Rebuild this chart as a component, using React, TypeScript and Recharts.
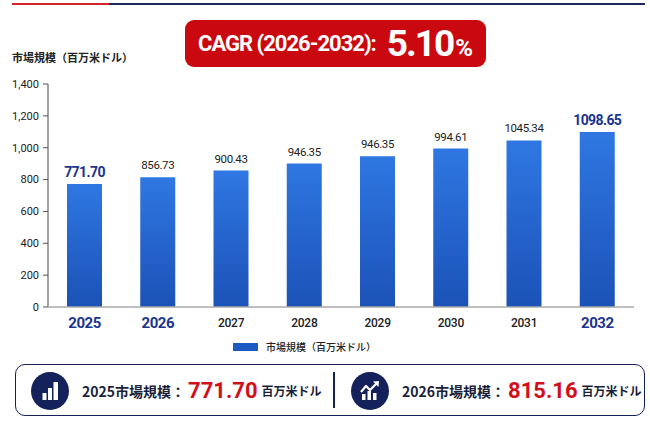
import React from "react";
import { BarChart, Bar, XAxis, YAxis, LabelList } from "recharts";

const FONT = "Roboto, 'Noto Sans CJK JP', sans-serif";
const JP = "'Noto Sans CJK JP', Roboto, sans-serif";

// data
const years = ["2025", "2026", "2027", "2028", "2029", "2030", "2031", "2032"];
const marketSize = [771.7, 815.16, 856.73, 900.43, 946.35, 994.61, 1045.34, 1098.65];
// value labels as printed above the bars (they do not all match the bar heights)
const barLabels = ["771.70", "856.73", "900.43", "946.35", "946.35", "994.61", "1045.34", "1098.65"];
const boldYears = ["2025", "2026", "2032"];
const boldLabelYears = ["2025", "2032"];
const yTicks = [0, 200, 400, 600, 800, 1000, 1200, 1400];

const seriesName = "市場規模（百万米ドル）";
const cagrText = "CAGR (2026-2032):";
const cagrValue = "5.10";
const summary = [
  { label: "2025市場規模：", value: "771.70", unit: "百万米ドル" },
  { label: "2026市場規模：", value: "815.16", unit: "百万米ドル" },
];

const NAVY = "#15215a";
const RED = "#d0101a";
const BLUE_TXT = "#1b348f";

const data = years.map((y, i) => ({ year: y, value: marketSize[i], label: barLabels[i] }));

function YearTick(props: any) {
  const { x, y, payload } = props;
  const big = boldYears.includes(payload.value);
  return (
    <text
      x={x}
      y={y + 15.5}
      textAnchor="middle"
      dominantBaseline="central"
      fontFamily={FONT}
      fontSize={big ? 15 : 12}
      fontWeight={big ? 700 : 500}
      letterSpacing={big ? -0.4 : -0.3}
      fill={big ? BLUE_TXT : "#222"}
    >
      {payload.value}
    </text>
  );
}

function ValueLabel(props: any) {
  const { x, y, width, index } = props;
  const d = data[index];
  if (!d) return null;
  const big = boldLabelYears.includes(d.year);
  return (
    <text
      x={x + width / 2}
      y={y - 12}
      textAnchor="middle"
      dominantBaseline="central"
      fontFamily={FONT}
      fontSize={big ? 14 : 11.5}
      fontWeight={big ? 700 : 400}
      letterSpacing={big ? -0.6 : -0.4}
      fill={big ? BLUE_TXT : "#222"}
    >
      {d.label}
    </text>
  );
}

function BarsIcon() {
  return (
    <svg width={38} height={38}>
      <circle cx={19} cy={19} r={19} fill={NAVY} />
      <rect x={11.5} y={21} width={4} height={7} fill="#fff" />
      <rect x={17} y={16} width={4} height={12} fill="#fff" />
      <rect x={22.5} y={10} width={4.5} height={18} fill="#fff" />
    </svg>
  );
}

function TrendIcon() {
  return (
    <svg width={38} height={38}>
      <circle cx={19} cy={19} r={19} fill={NAVY} />
      <rect x={11} y={22} width={3.5} height={6} fill="#fff" />
      <rect x={16.5} y={19} width={3.5} height={9} fill="#fff" />
      <rect x={22} y={21} width={3.5} height={7} fill="#fff" />
      <polyline points="10,20 15,14 19,18 26,11" fill="none" stroke="#fff" strokeWidth={2.2} strokeLinejoin="round" />
      <polygon points="22,9.5 28,9 27.5,15" fill="#fff" />
    </svg>
  );
}

function SummaryItem({ item, icon }: any) {
  return (
    <div style={{ display: "flex", alignItems: "center" }}>
      {icon}
      <span style={{ marginLeft: 13, fontFamily: JP, fontSize: 14, fontWeight: 700, color: "#1a1f3a", lineHeight: 1 }}>
        {item.label}
      </span>
      <span
        style={{
          marginLeft: 3,
          fontFamily: FONT,
          fontSize: 22,
          fontWeight: 700,
          color: RED,
          lineHeight: 1,
        }}
      >
        {item.value}
      </span>
      <span style={{ marginLeft: 4, fontFamily: JP, fontSize: 12, fontWeight: 700, color: "#1a1f3a", lineHeight: 1 }}>
        {item.unit}
      </span>
    </div>
  );
}

export default function App() {
  return (
    <div style={{ position: "absolute", left: 0, top: 0, width: 650, height: 422, background: "#fff", fontFamily: FONT, overflow: "hidden" }}>
      <div style={{ position: "absolute", left: 0, top: 0 }}>
        <BarChart width={650} height={422} data={data} margin={{ top: 84, right: 16, bottom: 85, left: 0 }}>
          <defs>
            <linearGradient id="barFill" x1="0" y1="0" x2="0" y2="1">
              <stop offset="0%" stopColor="#2f77e2" />
              <stop offset="100%" stopColor="#1b52b7" />
            </linearGradient>
          </defs>
          <YAxis
            width={48}
            domain={[0, 1400]}
            ticks={yTicks}
            interval={0}
            tickFormatter={(v: number) => v.toLocaleString("en-US")}
            tick={{ fontSize: 11, fill: "#222", fontFamily: FONT }}
            axisLine={{ stroke: "#666", strokeWidth: 1.2 }}
            tickLine={{ stroke: "#555" }}
            tickSize={5}
            tickMargin={4}
          />
          <XAxis
            dataKey="year"
            height={30}
            interval={0}
            tick={<YearTick />}
            tickLine={false}
            tickSize={0}
            tickMargin={0}
            axisLine={{ stroke: "#aaa", strokeWidth: 1.5 }}
          />
          <Bar dataKey="value" name={seriesName} fill="url(#barFill)" barSize={35} isAnimationActive={false}>
            <LabelList dataKey="label" content={(p: any) => <ValueLabel {...p} />} />
          </Bar>
        </BarChart>
      </div>

      {/* top rule */}
      <div style={{ position: "absolute", left: 12, top: 3, width: 97, height: 2, background: "#d3252b" }} />
      <div style={{ position: "absolute", left: 109, top: 3, width: 536, height: 2, background: "#1e2a5e" }} />

      {/* y axis title */}
      <div style={{ position: "absolute", left: 12, top: 50, fontFamily: JP, fontSize: 11, fontWeight: 700, color: "#222", lineHeight: "14px" }}>
        {seriesName}
      </div>

      {/* CAGR badge */}
      <div
        style={{
          position: "absolute",
          left: 185,
          top: 20,
          width: 301,
          height: 47,
          borderRadius: 9,
          background: "#c9090f",
          display: "flex",
          alignItems: "center",
          justifyContent: "center",
          color: "#fff",
        }}
      >
        <span style={{ fontFamily: FONT, fontSize: 22, fontWeight: 700, letterSpacing: -1, lineHeight: 1 }}>{cagrText}</span>
        <span style={{ marginLeft: 11, display: "flex", alignItems: "baseline", lineHeight: 1 }}>
          <span style={{ fontFamily: FONT, fontSize: 37, fontWeight: 700, letterSpacing: -2 }}>{cagrValue}</span>
          <span style={{ fontFamily: FONT, fontSize: 24, fontWeight: 700, marginLeft: 2 }}>%</span>
        </span>
      </div>

      {/* legend */}
      <div style={{ position: "absolute", left: 233, top: 340, display: "flex", alignItems: "center", height: 14 }}>
        <div style={{ width: 25, height: 8, background: "#1d59c2" }} />
        <span style={{ marginLeft: 8, fontFamily: JP, fontSize: 10, fontWeight: 500, color: "#222", lineHeight: 1 }}>{seriesName}</span>
      </div>

      {/* summary box */}
      <div
        style={{
          position: "absolute",
          left: 15,
          top: 364,
          width: 630,
          height: 52,
          boxSizing: "border-box",
          border: `1.5px solid ${NAVY}`,
          borderRadius: 10,
          background: "#fff",
        }}
      />
      <div style={{ position: "absolute", left: 333, top: 372, width: 1.5, height: 36, background: NAVY }} />
      <div style={{ position: "absolute", left: 31, top: 372, height: 38 }}>
        <SummaryItem item={summary[0]} icon={<BarsIcon />} />
      </div>
      <div style={{ position: "absolute", left: 351, top: 372, height: 38 }}>
        <SummaryItem item={summary[1]} icon={<TrendIcon />} />
      </div>
    </div>
  );
}
